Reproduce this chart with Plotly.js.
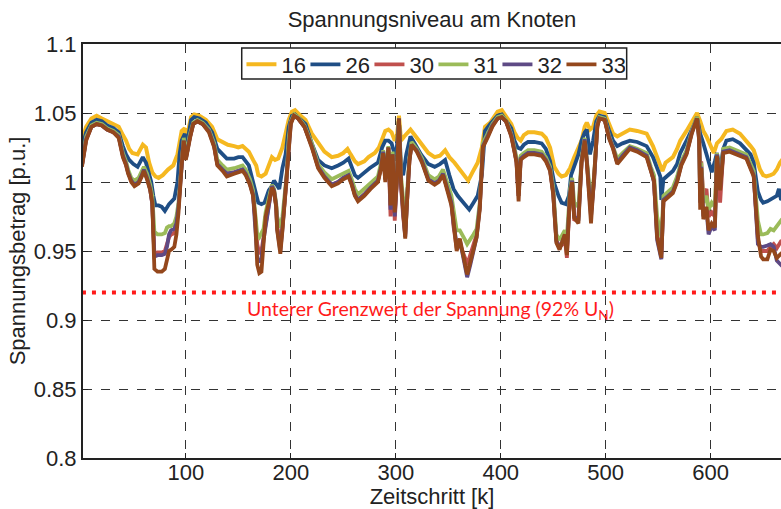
<!DOCTYPE html>
<html><head><meta charset="utf-8">
<script src="https://cdn.plot.ly/plotly-3.0.1.min.js"></script>
<style>html,body{margin:0;padding:0;background:#fff}#chart{width:781px;height:509px}</style>
</head><body><div id="chart"></div>
<script>
var seriesNames = ['16','26','30','31','32','33'];
var seriesColors = ['#F5B820','#1F4E85','#C0504D','#9BBB59','#5E4A85','#94471C'];

var x16 = [1,5,10,15,20,25,31,36,40,43, 46,49,54,57,59,62,65,68,71,74, 78,83,88,92,94,96,99,101,103,105,
 108,113,119,125,130,135,140,146,150,154, 157,160,164,167,169,172,176,182,185,188, 192,195,198,201,204,208,214,220,226,232,
 239,245,250,254,257,261,264,270,274,280, 284,287,290,293,296,299,301,303,305,308, 311,314,318,324,331,337,342,347,351,356,
 361,366,369,373,378,382,385,390,394,397, 401,405,410,413,416,419,422,426,432,439, 443,447,451,455,458,462,466,470,474,477,
 480,482,485,488,491,494,499,503,507,511, 516,523,530,539,545,549,552,554,557,564, 568,571,577,581,584,587,590,593,596,600,
 603,606,610,615,621,628,634,638,641,645, 647,650,653,657,660,663,666,670];
var v16 = [1.030,1.040,1.046,1.048,1.046,1.044,1.042,1.040,1.034,1.030, 1.024,1.021,1.020,1.024,1.027,1.025,1.014,1.007,1.004,1.003,
 1.005,1.009,1.012,1.020,1.030,1.037,1.039,1.028,1.040,1.047, 1.049,1.048,1.045,1.040,1.031,1.029,1.027,1.026,1.025,1.026,
 1.024,1.022,1.016,1.012,1.005,1.004,1.006,1.018,1.016,1.017, 1.025,1.034,1.045,1.051,1.052,1.049,1.045,1.035,1.028,1.022,
 1.018,1.019,1.021,1.024,1.020,1.015,1.013,1.015,1.018,1.021, 1.025,1.032,1.037,1.038,1.036,1.030,1.032,1.048,1.030,1.033,
 1.036,1.038,1.034,1.028,1.021,1.018,1.019,1.023,1.018,1.014, 1.009,1.004,1.001,1.007,1.014,1.025,1.040,1.043,1.048,1.051,
 1.052,1.048,1.042,1.036,1.032,1.030,1.034,1.036,1.036,1.035, 1.032,1.025,1.011,1.006,1.004,1.005,1.010,1.018,1.026,1.030,
 1.040,1.043,1.038,1.040,1.048,1.051,1.050,1.042,1.035,1.033, 1.035,1.038,1.037,1.035,1.026,1.018,1.011,1.008,1.014,1.018,
 1.024,1.030,1.037,1.042,1.045,1.050,1.044,1.037,1.033,1.026, 1.021,1.028,1.031,1.037,1.038,1.035,1.030,1.026,1.023,1.014,
 1.009,1.005,1.004,1.005,1.006,1.009,1.014,1.018];

var x26 = [1,5,10,15,20,25,31,36,40,43, 46,50,54,57,59,62,65,67,69,71, 74,77,80,84,89,92,94,96,99,101,
 103,105,108,113,119,125,130,135,139,146, 150,154,157,160,164,167,169,172,175,179, 182,184,186,189,192,195,198,201,204,208,
 214,220,226,232,239,245,250,255,258,261, 264,270,275,283,287,290,293,296,299,301, 303,305,307,310,314,318,324,331,337,342,
 347,351,355,359,363,366,370,374,378,382, 385,390,394,397,401,405,410,413,416,419, 422,426,432,439,443,447,451,455,458,462,
 465,467,471,474,477,480,482,485,488,491, 494,499,503,507,511,516,523,530,539,545, 549,552,553,555,558,564,568,571,577,581,
 584,587,590,593,596,599,601,604,606,609, 612,615,621,628,634,638,641,645,648,650, 654,658,663,665,667,670];
var v26 = [1.025,1.036,1.043,1.045,1.044,1.041,1.039,1.036,1.026,1.020, 1.016,1.013,1.011,1.016,1.018,1.014,1.006,1.000,0.990,0.983,
 0.983,0.982,0.979,0.984,0.988,1.000,1.020,1.030,1.035,1.020, 1.036,1.045,1.047,1.046,1.043,1.036,1.024,1.020,1.017,1.017,
 1.018,1.018,1.015,1.012,1.000,0.990,0.985,0.984,0.985,0.994, 0.997,1.001,0.999,0.995,1.010,1.020,1.040,1.048,1.049,1.046,
 1.042,1.028,1.016,1.012,1.010,1.012,1.014,1.017,1.010,1.005, 1.003,1.007,1.010,1.014,1.025,1.030,1.030,1.028,1.020,1.025,
 1.045,1.010,1.005,1.020,1.033,1.028,1.020,1.013,1.011,1.013, 1.016,1.005,0.995,0.990,0.986,0.984,0.980,0.985,0.990,1.005,
 1.037,1.042,1.046,1.048,1.049,1.045,1.039,1.030,1.025,1.024, 1.027,1.029,1.029,1.028,1.024,1.015,0.999,0.990,0.985,0.984,
 0.990,1.005,1.013,1.020,1.030,1.036,1.038,1.020,1.030,1.044, 1.048,1.047,1.038,1.030,1.026,1.028,1.030,1.029,1.026,1.018,
 1.010,1.004,0.987,1.002,1.004,1.008,1.013,1.021,1.030,1.036, 1.041,1.047,1.035,1.028,1.020,1.012,1.007,1.015,1.021,1.009,
 1.024,1.030,1.031,1.028,1.023,1.020,1.014,0.993,0.987,0.985, 0.986,0.988,0.990,0.995,0.987,0.990];

var xLow = [1,5,10,15,20,25,31,36,40,43, 45,48,51,55,58,60,63,66,68,70, 73,77,80,82,84,86,89,91,93,96,
 98,100,102,104,107,111,116,122,127,130, 135,139,146,150,154,157,161,164,166,168, 170,172,174,176,179,182,184,186,187,189,
 190,192,194,196,198,200,203,207,213,220, 226,232,239,245,250,255,258,261,264,270, 276,283,286,288,290,293,295,297,299,301,
 303,305,307,309,311,313,315,320,325,331, 337,341,345,349,353,355,358,361,364,366, 368,371,374,377,380,383,388,392,397,401,
 405,410,413,415,417,419,422,426,432,439, 443,447,450,453,456,459,461,463,466,468, 470,474,477,480,482,486,489,492,494,499,
 503,507,511,516,523,530,539,543,546,549, 551,553,555,558,564,568,572,577,582,587, 589,590,591,593,596,598,601,604,606,609,
 612,618,628,634,641,645,648,650,654,657, 660,663,667,670];

var v30 = [1.012,1.031,1.040,1.042,1.041,1.038,1.036,1.033,1.019,1.013, 1.007,1.001,0.998,1.000,1.005,1.009,1.003,0.995,0.984,0.948,
 0.949,0.949,0.950,0.955,0.960,0.962,0.963,0.970,0.982,1.014, 1.030,1.017,1.026,1.033,1.042,1.044,1.042,1.037,1.026,1.013,
 1.009,1.006,1.007,1.008,1.009,1.006,0.999,0.991,0.972,0.955, 0.948,0.950,0.960,0.970,0.986,0.997,0.994,0.983,0.968,0.955,
 0.953,0.968,0.986,1.001,1.029,1.043,1.048,1.046,1.040,1.026, 1.011,1.004,0.998,1.000,1.003,1.005,0.999,0.991,0.987,0.991,
 0.996,1.001,1.011,1.022,1.002,1.025,0.975,1.020,0.972,1.001, 1.046,0.998,0.975,0.962,0.990,1.016,1.027,1.023,1.015,1.002,
 0.999,1.001,1.006,0.996,0.985,0.968,0.952,0.955,0.950,0.945, 0.940,0.948,0.955,0.962,0.982,1.026,1.034,1.041,1.046,1.047,
 1.044,1.034,1.023,1.015,0.990,1.017,1.019,1.021,1.021,1.020, 1.016,1.009,0.992,0.958,0.953,0.955,0.960,0.945,0.992,1.001,
 0.972,0.975,1.015,1.031,1.015,0.978,1.002,1.041,1.046,1.045, 1.033,1.025,1.014,1.019,1.025,1.023,1.019,1.009,1.000,0.962,
 0.955,0.948,0.987,0.989,0.993,1.001,1.013,1.021,1.036,1.046, 1.035,1.010,1.015,0.990,0.995,0.975,0.978,0.975,1.020,0.985,
 1.022,1.023,1.020,1.018,1.005,0.958,0.950,0.950,0.950,0.953, 0.955,0.952,0.957,0.958];

var v31 = [1.014,1.033,1.041,1.043,1.042,1.039,1.037,1.034,1.021,1.015, 1.009,1.003,1.001,1.003,1.008,1.011,1.006,0.998,0.990,0.964,
 0.962,0.962,0.963,0.967,0.968,0.968,0.970,0.975,0.985,1.018, 1.032,1.020,1.028,1.035,1.043,1.045,1.043,1.038,1.028,1.016,
 1.012,1.009,1.010,1.011,1.012,1.009,1.002,0.994,0.980,0.962, 0.960,0.963,0.966,0.978,0.988,0.998,0.995,0.985,0.975,0.968,
 0.967,0.975,0.990,1.005,1.031,1.044,1.049,1.047,1.041,1.028, 1.013,1.007,1.002,1.004,1.006,1.008,1.002,0.995,0.991,0.995,
 0.999,1.004,1.014,1.023,1.008,1.026,0.992,1.022,0.985,1.005, 1.046,1.004,0.988,0.970,0.995,1.018,1.029,1.024,1.017,1.005,
 1.002,1.004,1.009,1.000,0.990,0.980,0.965,0.965,0.960,0.958, 0.955,0.958,0.962,0.966,0.985,1.028,1.035,1.042,1.047,1.048,
 1.045,1.035,1.025,1.018,1.000,1.019,1.021,1.023,1.023,1.022, 1.018,1.011,0.996,0.962,0.958,0.962,0.965,0.960,0.995,1.003,
 0.985,0.982,1.017,1.032,1.018,0.985,1.005,1.042,1.047,1.046, 1.034,1.026,1.017,1.021,1.026,1.024,1.021,1.011,1.005,0.975,
 0.968,0.960,0.990,0.992,0.996,1.004,1.015,1.023,1.037,1.047, 1.033,0.990,1.014,0.985,0.990,0.980,0.985,0.982,1.021,1.000,
 1.024,1.025,1.022,1.020,1.008,0.972,0.962,0.962,0.963,0.966, 0.965,0.968,0.972,0.970];

var v32 = [1.012,1.031,1.040,1.042,1.041,1.038,1.036,1.033,1.019,1.013, 1.007,1.001,0.998,1.000,1.005,1.009,1.003,0.995,0.984,0.946,
 0.947,0.947,0.948,0.953,0.962,0.965,0.966,0.970,0.982,1.014, 1.030,1.017,1.026,1.033,1.042,1.044,1.042,1.037,1.026,1.013,
 1.009,1.006,1.007,1.008,1.009,1.006,0.999,0.991,0.970,0.945, 0.942,0.945,0.958,0.968,0.986,0.997,0.994,0.983,0.966,0.952,
 0.950,0.966,0.986,1.001,1.029,1.043,1.048,1.046,1.040,1.026, 1.011,1.004,0.998,1.000,1.003,1.005,0.999,0.991,0.987,0.991,
 0.996,1.001,1.011,1.022,1.002,1.025,0.980,1.020,0.975,1.001, 1.046,0.998,0.978,0.960,0.990,1.016,1.027,1.023,1.015,1.002,
 0.999,1.001,1.006,0.996,0.985,0.970,0.955,0.958,0.945,0.938, 0.931,0.940,0.950,0.960,0.982,1.026,1.034,1.041,1.046,1.047,
 1.044,1.034,1.023,1.015,0.990,1.017,1.019,1.021,1.021,1.020, 1.016,1.009,0.992,0.957,0.952,0.957,0.961,0.950,0.992,1.001,
 0.975,0.972,1.015,1.031,1.015,0.975,1.002,1.041,1.046,1.045, 1.033,1.025,1.014,1.019,1.025,1.023,1.019,1.009,1.000,0.958,
 0.950,0.944,0.987,0.989,0.993,1.001,1.013,1.021,1.036,1.046, 1.031,0.985,1.011,0.975,0.980,0.962,0.968,0.965,1.020,0.996,
 1.022,1.023,1.020,1.018,1.005,0.955,0.953,0.953,0.954,0.955, 0.953,0.943,0.940,0.942];

var v33 = [1.011,1.030,1.040,1.042,1.041,1.038,1.036,1.032,1.018,1.012, 1.006,1.000,0.997,0.999,1.004,1.008,1.002,0.994,0.985,0.937,
 0.935,0.935,0.937,0.944,0.950,0.951,0.953,0.962,0.978,1.012, 1.030,1.016,1.025,1.032,1.042,1.044,1.042,1.036,1.025,1.012,
 1.008,1.004,1.006,1.007,1.008,1.005,0.998,0.990,0.975,0.940, 0.934,0.935,0.955,0.975,0.985,0.996,0.993,0.982,0.965,0.950,
 0.948,0.965,0.985,1.000,1.028,1.042,1.048,1.046,1.040,1.025, 1.010,1.003,0.997,0.999,1.002,1.004,0.998,0.990,0.986,0.990,
 0.995,1.000,1.010,1.021,1.000,1.025,0.983,1.020,0.978,1.000, 1.046,1.000,0.980,0.959,0.990,1.015,1.027,1.022,1.014,1.001,
 0.998,1.000,1.005,0.995,0.983,0.972,0.950,0.959,0.948,0.942, 0.933,0.942,0.950,0.960,0.980,1.025,1.033,1.040,1.046,1.047,
 1.044,1.033,1.022,1.014,0.986,1.016,1.018,1.020,1.020,1.019, 1.015,1.008,0.991,0.956,0.951,0.958,0.962,0.947,0.991,1.000,
 0.974,0.970,1.014,1.030,1.014,0.970,1.001,1.040,1.046,1.045, 1.032,1.024,1.013,1.018,1.024,1.022,1.018,1.008,1.001,0.960,
 0.951,0.945,0.986,0.988,0.992,1.000,1.012,1.020,1.035,1.046, 1.030,0.980,1.010,0.973,0.982,0.965,0.970,0.967,1.019,0.994,
 1.021,1.022,1.019,1.017,1.004,0.961,0.946,0.944,0.944,0.951, 0.950,0.945,0.948,0.950];

var limitX = [1, 670];
var limitV = [0.92, 0.92];
var limitLabel = 'Unterer Grenzwert der Spannung (92% U<sub>N</sub>)';
var labelPos = {x: 333, y: 0.9075};

var xs = [x16, x26, xLow, xLow, xLow, xLow];
var ys = [v16, v26, v30, v31, v32, v33];
var widths = [4, 3.8, 3.8, 3.8, 3.8, 3.8];

var traces = [];
traces.push({x: limitX, y: limitV, mode: 'lines', showlegend: false, hoverinfo: 'skip',
  line: {color: '#FF1A1A', width: 4, dash: '4px,6px'}});
for (var i = 0; i < seriesNames.length; i++) {
  traces.push({x: xs[i], y: ys[i], name: seriesNames[i], mode: 'lines', type: 'scatter',
    line: {color: seriesColors[i], width: widths[i], shape: 'linear'}});
}

var font = 'Liberation Sans, Arial, sans-serif';
var fs = 22;
var layout = {
  width: 781, height: 509,
  margin: {l: 83, r: 0, t: 44, b: 51},
  paper_bgcolor: '#fff', plot_bgcolor: '#fff',
  font: {family: font, color: '#222', size: fs},
  title: {text: 'Spannungsniveau am Knoten', x: 0.5, xref: 'paper', y: 0.963, yref: 'container', yanchor: 'middle',
    font: {family: font, size: fs, color: '#222'}},
  xaxis: {range: [2, 667], tickvals: [100, 200, 300, 400, 500, 600], ticks: 'inside', ticklen: 5, tickcolor: '#222',
    ticklabelstandoff: -6,
    showline: true, linecolor: '#222', linewidth: 2, mirror: true, zeroline: false,
    showgrid: true, gridcolor: '#333', griddash: 'dash', gridwidth: 1,
    tickfont: {family: font, size: fs, color: '#222'},
    title: {text: 'Zeitschritt [k]', font: {family: font, size: fs, color: '#222'}, standoff: 4}},
  yaxis: {range: [0.8, 1.1], dtick: 0.05, tick0: 0.8, ticks: 'inside', ticklen: 5, tickcolor: '#222',
    showline: true, linecolor: '#222', linewidth: 2, mirror: false, zeroline: false,
    showgrid: true, gridcolor: '#333', griddash: 'dash', gridwidth: 1,
    tickfont: {family: font, size: fs, color: '#222'},
    title: {text: 'Spannungsbetrag [p.u.]', font: {family: font, size: fs, color: '#222'}, standoff: 2}},
  legend: {orientation: 'h', x: 0.227, y: 1.0012, xanchor: 'left', yanchor: 'top',
    bgcolor: 'rgba(0,0,0,0)', borderwidth: 0, entrywidth: 19, entrywidthmode: 'pixels',
    font: {family: font, size: fs, color: '#222'}, traceorder: 'normal'},
  shapes: [{type: 'rect', xref: 'paper', yref: 'paper', x0: 0.2274, x1: 0.7789, y0: 0.9155, y1: 0.9903,
    layer: 'above', fillcolor: '#fff', line: {color: '#222', width: 1.5}}],
  annotations: [{x: labelPos.x, y: labelPos.y, xref: 'x', yref: 'y', text: limitLabel, showarrow: false,
    font: {family: 'Lato, Open Sans, sans-serif', size: 19.5, color: '#FF1A1A'}}],
  showlegend: true
};

Plotly.newPlot('chart', traces, layout, {staticPlot: true, displayModeBar: false});
</script>
</body></html>
